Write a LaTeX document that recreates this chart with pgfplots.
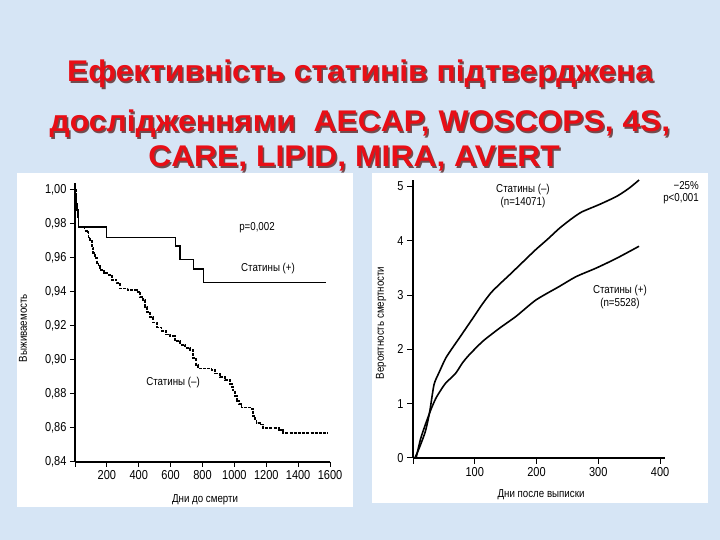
\documentclass[border=0pt]{standalone}
\usepackage{fontspec}
\setmainfont{Liberation Sans}
\newfontfamily\cond[FakeStretch=0.85]{Liberation Sans}
\newfontfamily\titlefont[FakeStretch=1.065]{Liberation Sans Bold}
\usepackage{pgfplots}
\pgfplotsset{compat=1.18}
\definecolor{bgblue}{RGB}{214,229,245}
\definecolor{titlered}{RGB}{232,14,22}
\definecolor{shadowc}{RGB}{95,50,50}

\newcommand{\titleline}[3]{%
  \node[anchor=base, inner sep=0pt, text=shadowc, opacity=0.85, font=\titlefont\fontsize{30}{30}\selectfont] at (#1bp+1.5bp,#2bp-1.5bp) {#3};
  \node[anchor=base, inner sep=0pt, text=titlered, font=\titlefont\fontsize{30}{30}\selectfont] at (#1bp,#2bp) {#3};}

\tikzset{note/.style={font=\cond\fontsize{11.5}{11.5}\selectfont, inner sep=1bp}}

\pgfplotsset{
  panel/.style={
    scale only axis,
    axis x line=bottom, axis y line=left,
    axis line style={-, line width=1.1bp},
    tick align=outside, major tick length=5bp,
    tick style={black, line width=1bp},
    minor tick num=0,
    /pgf/number format/assume math mode=true,
    ticklabel style={font=\cond\fontsize{13}{13}\selectfont},
    label style={font=\cond\fontsize{11.5}{11.5}\selectfont},
    clip=false,
  },
}

\begin{document}
\begin{tikzpicture}[x=1bp,y=1bp]
\useasboundingbox (0,0) rectangle (720,540);
\fill[bgblue] (0,0) rectangle (720,540);
% white panels
\fill[white] (17,33) rectangle (353,367);
\fill[white] (372,37) rectangle (708,367);

\titleline{360}{458}{Ефективність статинів підтверджена}
\titleline{360}{408}{дослідженнями\ \ AECAP, WOSCOPS, 4S,}
\titleline{354}{373}{CARE, LIPID, MIRA, AVERT}

% left: survival
\begin{axis}[panel,
  at={(75bp,78bp)}, anchor=south west,
  width=255bp, height=279bp,
  xmin=0, xmax=1600, ymin=0.84, ymax=1.004,
  xtick={0,200,400,600,800,1000,1200,1400,1600},
  xticklabels={,200,400,600,800,1000,1200,1400,1600},
  ytick={0.84,0.86,0.88,0.90,0.92,0.94,0.96,0.98,1.00},
  yticklabels={{0,84},{0,86},{0,88},{0,90},{0,92},{0,94},{0,96},{0,98},{1,00}},
  xlabel={Дни до смерти}, ylabel={Выживаемость},
  xlabel style={at={(axis description cs:0.51,-0.136)}, anchor=center},
  ylabel style={at={(axis description cs:-0.204,0.48)}, anchor=center},
]
% statins (+)
\addplot[const plot, black, line width=1.5bp] table {
x y
0 1.000
4 0.996
8 0.992
12 0.988
18 0.984
22 0.978
199 0.972
631 0.967
658 0.959
742 0.9535
805 0.9455
1578 0.9455
};
% statins (-)
\addplot[const plot, black, line width=1.8bp, dash pattern=on 3bp off 1.2bp] table {
x y
0 1.000
4 0.996
8 0.992
12 0.988
18 0.984
22 0.978
60 0.976
73 0.975
85 0.972
94 0.970
105 0.966
115 0.963
125 0.960
136 0.957
147 0.955
157 0.953
180 0.951
199 0.950
230 0.947
261 0.945
282 0.942
330 0.941
387 0.940
410 0.937
429 0.935
440 0.931
450 0.928
470 0.925
491 0.922
515 0.919
543 0.917
570 0.915
596 0.914
625 0.911
658 0.909
690 0.907
721 0.906
740 0.901
760 0.897
773 0.895
857 0.894
880 0.892
909 0.890
940 0.888
972 0.886
985 0.884
993 0.882
1005 0.879
1014 0.876
1030 0.874
1045 0.872
1108 0.871
1118 0.867
1130 0.865
1139 0.863
1160 0.862
1181 0.860
1280 0.859
1306 0.857
1590 0.857
};
\node[note] at (axis cs:1142,0.978) {p=0,002};
\node[note] at (axis cs:1211,0.954) {Статины (+)};
\node[note] at (axis cs:615,0.887) {Статины (–)};
\end{axis}

% right: mortality
\begin{axis}[panel,
  at={(413bp,82bp)}, anchor=south west,
  width=252bp, height=278bp,
  xmin=0, xmax=408, ymin=0, ymax=5.12,
  xtick={0,100,200,300,400},
  xticklabels={,100,200,300,400},
  ytick={0,1,2,3,4,5},
  major tick length=6bp,
  xlabel={Дни после выписки}, ylabel={Вероятность смертности},
  xlabel style={at={(axis description cs:0.508,-0.133)}, anchor=center},
  ylabel style={at={(axis description cs:-0.127,0.486)}, anchor=center},
]
% statins (-)
\addplot[smooth, tension=0.4, black, line width=1.6bp] table {
x y
3 0
10 0.18
20 0.49
27 0.85
34 1.35
42 1.57
53 1.84
64 2.03
75 2.21
87 2.41
99 2.61
112 2.83
126 3.04
140 3.20
156 3.37
177 3.60
198 3.83
218 4.03
237 4.23
256 4.40
273 4.53
302 4.67
330 4.82
350 4.97
366 5.12
};
% statins (+)
\addplot[smooth, tension=0.4, black, line width=1.6bp] table {
x y
5 0
12 0.34
18 0.55
23 0.71
30 0.92
37 1.10
45 1.25
53 1.38
69 1.56
80 1.75
91 1.90
113 2.15
140 2.39
167 2.61
199 2.91
237 3.16
264 3.34
297 3.50
330 3.68
366 3.90
};
\node[note] at (axis cs:178,4.95) {Статины (–)};
\node[note] at (axis cs:178,4.71) {(n=14071)};
\node[note] at (axis cs:335,3.08) {Статины (+)};
\node[note] at (axis cs:335,2.84) {(n=5528)};
\node[note, anchor=east, inner sep=0pt] at (axis cs:463,5.01) {−25\%};
\node[note, anchor=east, inner sep=0pt] at (axis cs:463,4.78) {p<0,001};
\end{axis}
\end{tikzpicture}
\end{document}
